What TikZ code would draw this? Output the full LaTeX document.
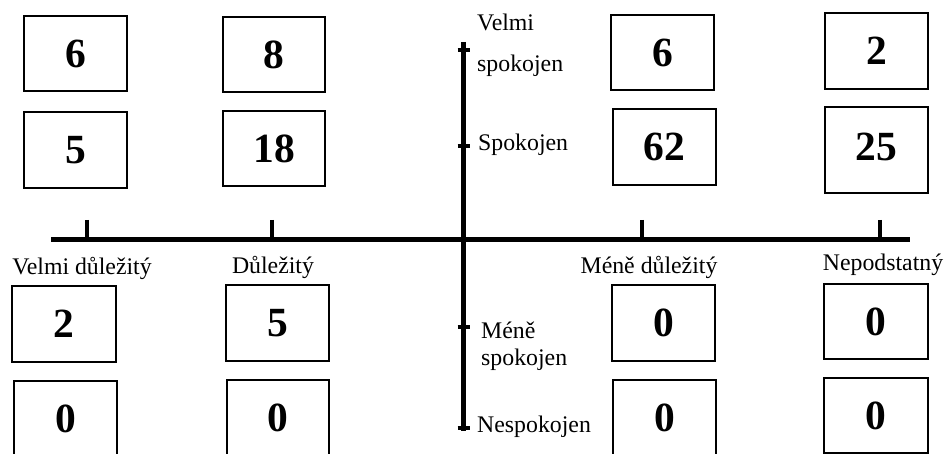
\documentclass[tikz,border=0pt]{standalone}
\usepackage{fontspec}
\setmainfont{Liberation Serif}
\begin{document}
\begin{tikzpicture}[x=1pt,y=-1pt,
  numbox/.style={draw=black, line width=1.4pt, inner sep=0pt,
    minimum width=103pt, minimum height=75pt,
    font=\fontsize{41.5}{42}\selectfont\bfseries},
  axisline/.style={line width=5pt},
  tickmark/.style={line width=4.5pt},
  lbl/.style={anchor=base, inner sep=0pt, font=\fontsize{23.8}{28}\selectfont},
  lbll/.style={lbl, anchor=base west}]
% canvas
\path[use as bounding box] (0,0) rectangle (949,454);
\clip (0,0) rectangle (949,454);

% axes
\coordinate (hL) at (51,239);
\coordinate (hR) at (910,239);
\coordinate (vT) at (463,42);
\coordinate (vB) at (463,431);
\draw[axisline] (hL) -- (hR);
\draw[axisline] (vT) -- (vB);

% ticks on the importance axis
\foreach \n/\x in {a/87, b/272, c/642, d/880} {
  \coordinate (t\n) at (\x,220);
  \coordinate (u\n) at (\x,239);
  \draw[tickmark] (t\n) -- (u\n);
}
% ticks on the satisfaction axis
\foreach \n/\y in {a/50, b/146, c/327, d/428} {
  \coordinate (s\n) at (457.5,\y);
  \coordinate (r\n) at (469.5,\y);
  \draw[tickmark] (s\n) -- (r\n);
}

% importance labels
\node[lbl] (imp1) at (82,274) {Velmi důležitý};
\node[lbl] (imp2) at (273,273) {Důležitý};
\node[lbl] (imp3) at (649,273) {Méně důležitý};
\node[lbl] (imp4) at (883,270) {Nepodstatný};

% satisfaction labels
\node[lbll] (sat1a) at (477,31) {Velmi};
\node[lbll] (sat1b) at (477,72) {spokojen};
\node[lbll] (sat2) at (478,151) {Spokojen};
\node[lbll] (sat3a) at (481,338) {Méně};
\node[lbll] (sat3b) at (481,365) {spokojen};
\node[lbll] (sat4) at (477,432) {Nespokojen};

% counts, upper half
\node[numbox] (b1) at (75.5,53.5) {6};
\node[numbox, minimum height=76pt] (b2) at (75.5,150) {5};
\node[numbox, minimum width=102pt] (b3) at (274,54.5) {8};
\node[numbox, minimum width=102pt] (b4) at (274,148.5) {18};
\node[numbox] (b5) at (662.5,52.5) {6};
\node[numbox, minimum height=76pt] (b6) at (664.5,147) {62};
\node[numbox, minimum height=76pt] (b7) at (876.5,51) {2};
\node[numbox, minimum height=86pt, text depth=6pt] (b8) at (876.5,150) {25};

% counts, lower half
\node[numbox, minimum width=104pt, minimum height=76pt] (b9) at (64,324) {2};
\node[numbox] (b10) at (65.5,418.5) {0};
\node[numbox, minimum height=76pt] (b11) at (277.5,323) {5};
\node[numbox, minimum width=102pt] (b12) at (278,417.5) {0};
\node[numbox, minimum height=76pt] (b13) at (663.5,323) {0};
\node[numbox] (b14) at (664.5,417.5) {0};
\node[numbox, minimum width=104pt] (b15) at (876,321.5) {0};
\node[numbox, minimum width=104pt] (b16) at (876,415.5) {0};
\end{tikzpicture}
\end{document}
